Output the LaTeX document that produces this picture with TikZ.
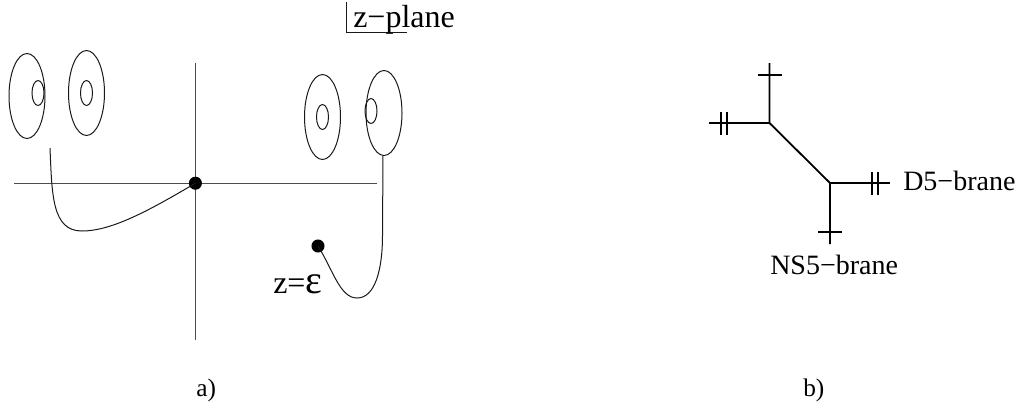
\documentclass[tikz,border=0pt]{standalone}
\usepackage{fontspec}
\setmainfont{Liberation Serif}
\tikzset{
  curveline/.style={line width=0.75pt,black!90},
  axisline/.style={line width=0.85pt,black!70},
  braneline/.style={line width=1.35pt,black},
  tickline/.style={line width=1.05pt,black},
  dotnode/.style={circle,fill=black,inner sep=0pt,minimum size=9.8pt},
  lab/.style={inner sep=0pt,font=\fontsize{21}{24}\selectfont,anchor=base west},
  biglab/.style={inner sep=0pt,font=\fontsize{24}{26}\selectfont,anchor=base west},
  sublab/.style={inner sep=0pt,font=\fontsize{19}{22}\selectfont,anchor=base west},
}
\begin{document}
\begin{tikzpicture}[x=0.75pt,y=-0.75pt]
\useasboundingbox (0,0) rectangle (1020,404);
% axes
\coordinate (xl) at (14,183.2); \coordinate (xr) at (377,183.2);
\coordinate (yt) at (195.4,63); \coordinate (yb) at (195.4,340);
\draw[axisline] (xl) -- (xr);
\draw[axisline] (yt) -- (yb);
\node[dotnode] (origin) at (195.4,183.2) {};
\node[dotnode] (eps) at (318,246) {};
% discs
\draw[curveline] (27,96) ellipse (18 and 42.5);
\draw[curveline] (38,93) ellipse (6 and 12.5);
\draw[curveline] (86.5,93) ellipse (18 and 42.5);
\draw[curveline] (86.5,93) ellipse (6 and 12.5);
\draw[curveline] (322.5,117) ellipse (18 and 42.5);
\draw[curveline] (322.5,117) ellipse (6 and 12.5);
\draw[curveline] (384,113) ellipse (18 and 42.5);
\draw[curveline] (371,111) ellipse (6 and 12.5);
% cuts
\coordinate (c1) at (50,148);
\draw[curveline] (c1) .. controls (52,195) and (52,231) .. (82,231)
  .. controls (112,231) and (150,210) .. (origin.center);
\coordinate (c2) at (383,155);
\draw[curveline] (c2) -- (382.5,235) .. controls (382.5,270) and (375,298) .. (357,298)
  .. controls (340,298) and (333,270) .. (eps.center);
% plane label
\coordinate (p1) at (346,2); \coordinate (p2) at (346,32); \coordinate (p3) at (407,32);
\draw[curveline] (p1) -- (p2) -- (p3);
\node[biglab] (zplane) at (353,27) {z−plane};
\node[biglab] (zeps) at (273,293) {z=\fontsize{30}{30}\selectfont ε};
\node[sublab] (la) at (196,396) {a)};
\node[sublab] (lb) at (803,396) {b)};
% right web
\coordinate (v1) at (769.5,123); \coordinate (v2) at (830,183);
\coordinate (up) at (769.5,63); \coordinate (left) at (709,123);
\coordinate (right) at (890,183); \coordinate (down) at (830,244);
\draw[braneline] (up) -- (v1) -- (v2) -- (down);
\draw[braneline] (left) -- (v1);
\draw[braneline] (v2) -- (right);
\coordinate (t1a) at (758,75); \coordinate (t1b) at (782,75);
\coordinate (t2a) at (818,232); \coordinate (t2b) at (842,232);
\coordinate (t3a) at (721,112); \coordinate (t3b) at (721,135);
\coordinate (t4a) at (727,112); \coordinate (t4b) at (727,135);
\coordinate (t5a) at (872,172); \coordinate (t5b) at (872,195);
\coordinate (t6a) at (878,172); \coordinate (t6b) at (878,195);
\foreach \a/\b in {t1a/t1b,t2a/t2b,t3a/t3b,t4a/t4b,t5a/t5b,t6a/t6b}
  \draw[tickline] (\a) -- (\b);
\node[lab] (d5) at (903,190) {D5−brane};
\node[lab] (ns5) at (770,274) {NS5−brane};
\end{tikzpicture}
\end{document}
